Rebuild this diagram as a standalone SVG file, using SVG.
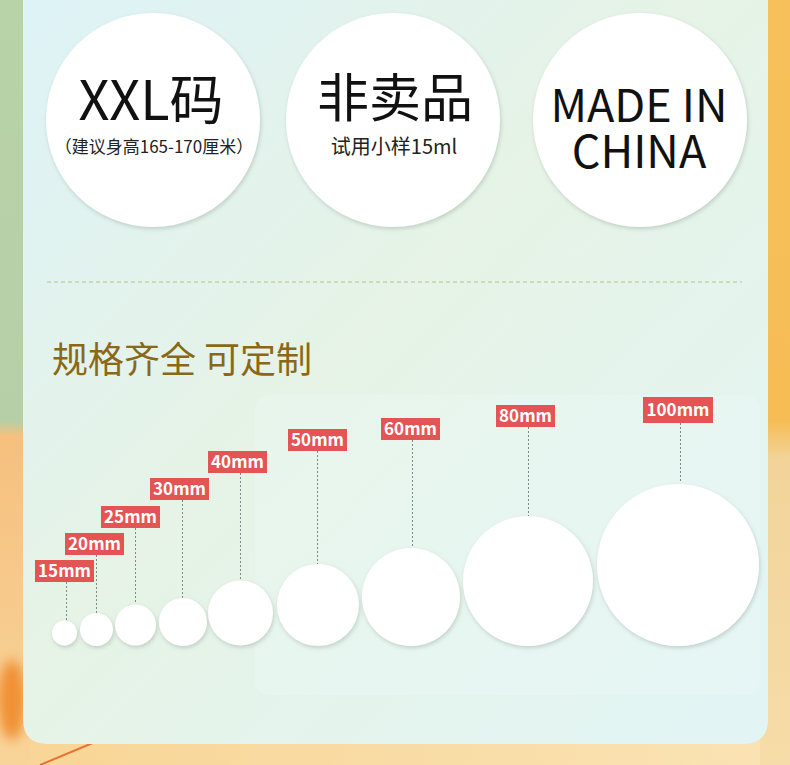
<svg xmlns="http://www.w3.org/2000/svg" width="790" height="765" viewBox="0 0 790 765">
<defs>
<linearGradient id="panelBg" x1="0" y1="0" x2="1" y2="1">
<stop offset="0" stop-color="#def3f7"/>
<stop offset="0.45" stop-color="#e6f3e6"/>
<stop offset="1" stop-color="#e2f5f5"/>
</linearGradient>
<linearGradient id="leftStrip" x1="0" y1="0" x2="0" y2="1">
<stop offset="0" stop-color="#b9d3a9"/>
<stop offset="0.55" stop-color="#b6cfa6"/>
<stop offset="0.57" stop-color="#f6c07e"/>
<stop offset="1" stop-color="#f8d49a"/>
</linearGradient>
<linearGradient id="rightStrip" x1="0" y1="0" x2="0" y2="1">
<stop offset="0" stop-color="#f7c05a"/>
<stop offset="0.55" stop-color="#f6bd55"/>
<stop offset="0.6" stop-color="#f2d49a"/>
<stop offset="1" stop-color="#f6dca8"/>
</linearGradient>
<linearGradient id="bottomStrip" x1="0" y1="0" x2="1" y2="0">
<stop offset="0" stop-color="#f8d595"/>
<stop offset="1" stop-color="#fae3b4"/>
</linearGradient>
<filter id="shadow" x="-20%" y="-20%" width="140%" height="140%">
<feDropShadow dx="1" dy="2" stdDeviation="2" flood-color="#7a8a80" flood-opacity="0.35"/>
</filter>
<filter id="soft" x="-20%" y="-20%" width="140%" height="140%">
<feGaussianBlur stdDeviation="6"/>
</filter>
<style>
.big{font-family:"Noto Sans CJK SC","Noto Sans",sans-serif;fill:#111;text-anchor:middle}
.sub{font-family:"Noto Sans CJK SC","Noto Sans",sans-serif;fill:#222;text-anchor:middle}
.title{font-family:"Noto Sans CJK SC","Noto Sans",sans-serif;fill:#8a6816;font-size:36px}
.tag{fill:#e55454}
.tagtxt{font-family:"Noto Sans CJK SC","Noto Sans",sans-serif;font-weight:bold;fill:#fff;font-size:17px;text-anchor:middle}
.disc{fill:#fff;filter:url(#shadow)}
.lead{stroke:#7d8a8a;stroke-width:1;stroke-dasharray:2 2;fill:none}
</style>
</defs>

<!-- background -->
<rect x="0" y="0" width="790" height="765" fill="url(#bottomStrip)"/>
<rect x="0" y="0" width="30" height="765" fill="url(#leftStrip)"/>
<rect x="760" y="0" width="30" height="765" fill="url(#rightStrip)"/>
<g opacity="0.9">
<ellipse cx="12" cy="700" rx="14" ry="40" fill="#f08a2a" filter="url(#soft)"/>
<path d="M40 765 L95 742" stroke="#e8682a" stroke-width="2"/>
</g>
<path d="M23 0 H768 V719 Q768 744 743 744 H48 Q23 744 23 719 Z" fill="url(#panelBg)"/>
<rect x="255" y="395" width="505" height="300" rx="14" fill="#eefafa" opacity="0.25"/>

<!-- top badges -->
<g id="badge-xxl">
<circle cx="153" cy="120" r="107" class="disc"/>
<text x="151" y="120" class="big" font-size="54">XXL码</text>
<text x="154" y="153" class="sub" font-size="17">（建议身高165-170厘米）</text>
</g>
<g id="badge-sample">
<circle cx="393" cy="120" r="107" class="disc"/>
<text x="395" y="117" class="big" font-size="52">非卖品</text>
<text x="394" y="154" class="sub" font-size="20">试用小样15ml</text>
</g>
<g id="badge-china">
<circle cx="640" cy="120" r="107" class="disc"/>
<text x="639" y="122" class="big" font-size="45">MADE IN</text>
<text x="639" y="168" class="big" font-size="45">CHINA</text>
</g>

<line x1="47" y1="282" x2="742" y2="282" stroke="#b3c48f" stroke-width="1" stroke-dasharray="4 3"/>

<text x="52" y="373" class="title">规格齐全 可定制</text>

<!-- connectors -->
<g id="connectors">
<line x1="66.5" y1="582" x2="66.5" y2="620" class="lead"/>
<line x1="96.5" y1="555" x2="96.5" y2="613" class="lead"/>
<line x1="135.5" y1="528" x2="135.5" y2="604" class="lead"/>
<line x1="182.5" y1="500" x2="182.5" y2="598" class="lead"/>
<line x1="240.5" y1="473" x2="240.5" y2="580" class="lead"/>
<line x1="317.5" y1="451" x2="317.5" y2="564" class="lead"/>
<line x1="412.5" y1="440" x2="412.5" y2="548" class="lead"/>
<line x1="528.5" y1="427" x2="528.5" y2="516" class="lead"/>
<line x1="680.5" y1="423" x2="680.5" y2="483" class="lead"/>
</g>

<!-- size nodes -->
<g id="size-15">
<circle cx="64.5" cy="633" r="12.5" class="disc"/>
<rect x="35" y="560" width="59" height="22" class="tag"/>
<text x="64.5" y="577" class="tagtxt">15mm</text>
</g>
<g id="size-20">
<circle cx="96.5" cy="629.5" r="16.5" class="disc"/>
<rect x="65" y="533" width="59" height="22" class="tag"/>
<text x="94.5" y="550" class="tagtxt">20mm</text>
</g>
<g id="size-25">
<circle cx="135.5" cy="625" r="20.5" class="disc"/>
<rect x="101" y="506" width="59" height="22" class="tag"/>
<text x="130.5" y="523" class="tagtxt">25mm</text>
</g>
<g id="size-30">
<circle cx="183" cy="622" r="24" class="disc"/>
<rect x="150" y="478" width="59" height="22" class="tag"/>
<text x="179.5" y="495" class="tagtxt">30mm</text>
</g>
<g id="size-40">
<circle cx="240.5" cy="613" r="32.5" class="disc"/>
<rect x="208" y="451" width="59" height="22" class="tag"/>
<text x="237.5" y="468" class="tagtxt">40mm</text>
</g>
<g id="size-50">
<circle cx="318" cy="605" r="41" class="disc"/>
<rect x="288" y="429" width="59" height="22" class="tag"/>
<text x="317.5" y="446" class="tagtxt">50mm</text>
</g>
<g id="size-60">
<circle cx="411" cy="597" r="49" class="disc"/>
<rect x="381" y="418" width="59" height="22" class="tag"/>
<text x="410.5" y="435" class="tagtxt">60mm</text>
</g>
<g id="size-80">
<circle cx="528" cy="581" r="65" class="disc"/>
<rect x="496" y="405" width="59" height="22" class="tag"/>
<text x="525.5" y="422" class="tagtxt">80mm</text>
</g>
<g id="size-100">
<circle cx="678" cy="565" r="81" class="disc"/>
<rect x="643" y="397" width="70" height="26" class="tag"/>
<text x="678" y="416" class="tagtxt">100mm</text>
</g>
</svg>
